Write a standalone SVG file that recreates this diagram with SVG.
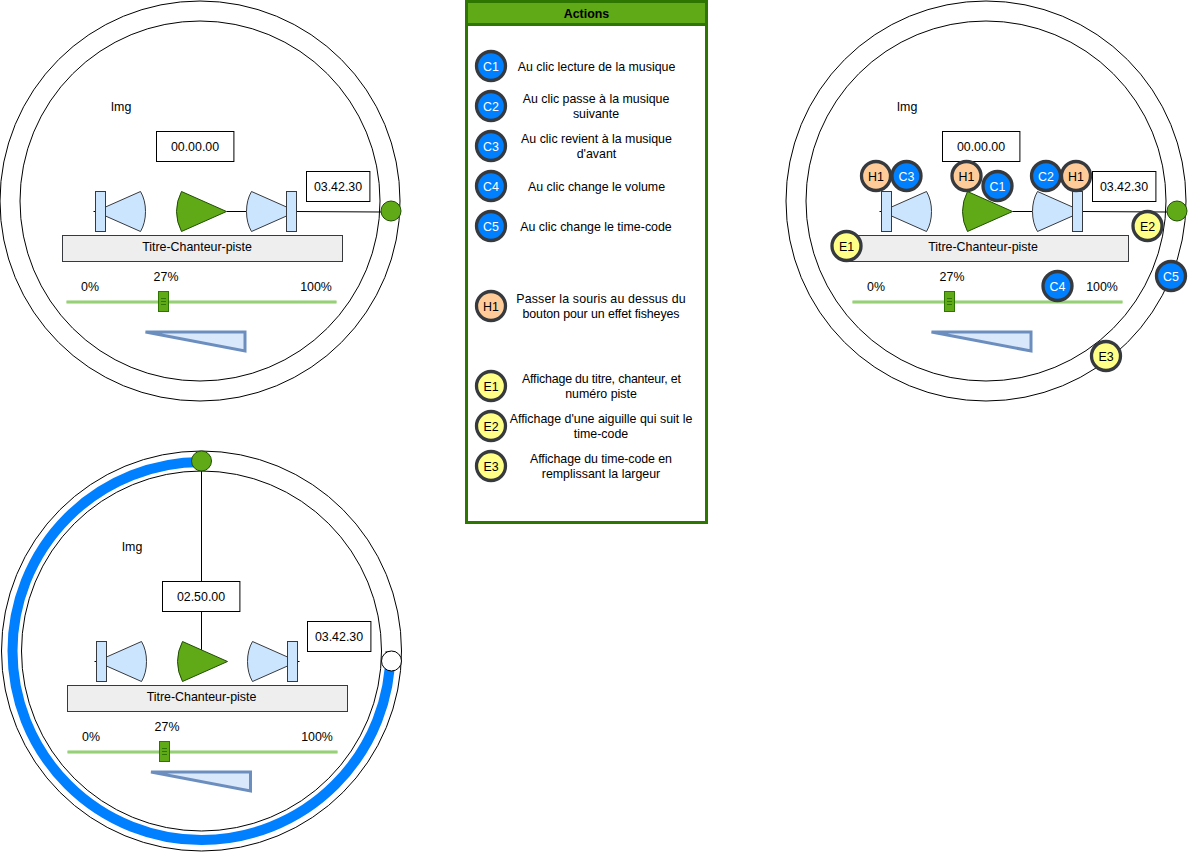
<svg xmlns="http://www.w3.org/2000/svg" width="1188" height="852" viewBox="0 0 1188 852">
<style>
text{font-family:"Liberation Sans",Arial,sans-serif;font-size:12.4px;fill:#000;text-anchor:middle;dominant-baseline:central;transform:translateY(.5px)}
.ring{fill:none;stroke:#000;stroke-width:1}
.box{fill:#fff;stroke:#000;stroke-width:1}
.btn{fill:#cce5ff;stroke:#36393d;stroke-width:1}
.play{fill:#60a917;stroke:#1f4f00;stroke-width:1}
.knob{fill:#60a917;stroke:#1f4f00;stroke-width:1}
.title{fill:#eeeeee;stroke:#36393d;stroke-width:1}
.track{fill:none;stroke:#97d077;stroke-width:2}
.halo{fill:none;stroke:#97d077;stroke-width:4;stroke-opacity:.55}
.thumb{fill:#60a917;stroke:#2d7600;stroke-width:1}
.tick{fill:none;stroke:#2d7600;stroke-width:1}
.wedge{fill:#dae8fc;stroke:#6c8ebf;stroke-width:3}
.conn{fill:none;stroke:#000;stroke-width:1}
.b{stroke:#36393d;stroke-width:3.3}
.c{fill:#007fff}.h{fill:#ffcc99}.e{fill:#ffff88}
text.w{fill:#fff}
</style>
<defs>
<g id="prev"><path class="conn" d="M93.500 211.500H95.500"/><path class="btn" d="M105.500 207L140.500 191.500Q145.500 200 145.500 211.500Q145.500 223 140.500 231.500L105.500 216Z"/><rect class="btn" x="95.500" y="191.500" width="10" height="40"/></g>
<g id="next"><path class="btn" d="M286.500 207L251.500 191.500Q246.500 200 246.500 211.500Q246.500 223 251.500 231.500L286.500 216Z"/><rect class="btn" x="286.500" y="191.500" width="10" height="40"/></g>
<path id="playshape" class="play" d="M181.500 191.500L226.500 211.500L181.500 231.500Q176.500 222 176.500 211.500Q176.500 201 181.500 191.500Z"/>
<g id="thumbshape"><rect class="thumb" x="158.500" y="291.500" width="10" height="20"/><path class="tick" d="M161 298.500H166M161 301.500H166M161 304.500H166"/></g>
</defs>

<g id="panel1">
<circle id="p1-outer" class="ring" cx="200" cy="201" r="200"/>
<circle id="p1-inner" class="ring" cx="200" cy="201" r="180"/>
</g>
<g id="panel2">
<circle id="p2-outer" class="ring" cx="986" cy="201" r="200"/>
<circle id="p2-inner" class="ring" cx="986" cy="201" r="180"/>
</g>
<g id="panel3">
<circle id="p3-outer" class="ring" cx="201.500" cy="651" r="200"/>
<path id="p3-progress" fill="none" stroke="#007fff" stroke-width="10" d="M201.500 462A189 189 0 1 0 390.500 651"/>
<circle id="p3-inner" class="ring" cx="201.500" cy="651" r="180"/>
</g>

<g id="connectors">
<path class="conn" d="M226.500 211.500H246.500"/>
<path class="conn" d="M296.500 211.500L381 212"/>
<path class="conn" d="M1012.500 211.500H1032.500"/>
<path class="conn" d="M1082.500 211.500L1167 212"/>
<path class="conn" d="M201.500 471V650"/>
<path class="conn" d="M297.500 661.500H299.500"/>
</g>

<g id="panel1-nodes">
<g id="p1-img"><text x="121" y="106">Img</text></g>
<g id="p1-time"><rect class="box" x="156.500" y="131.500" width="77.400" height="30"/><text x="195" y="146.500">00.00.00</text></g>
<g id="p1-total"><rect class="box" x="306.500" y="171.500" width="63.400" height="30"/><text x="338" y="186.500">03.42.30</text></g>
<use id="p1-prev" href="#prev"/>
<use id="p1-play" href="#playshape"/>
<use id="p1-next" href="#next"/>
<g id="p1-title"><rect class="title" x="62.500" y="235.500" width="280" height="26"/><text x="197" y="246.500">Titre-Chanteur-piste</text></g>
<g id="p1-slider"><path class="halo" d="M66.500 302H336.500"/><path class="track" d="M66.500 302H336.500"/><use href="#thumbshape"/><text x="166" y="276">27%</text><text x="90" y="286">0%</text><text x="316" y="286">100%</text></g>
<path id="p1-wedge" class="wedge" d="M145.500 332H245V351Z"/>
<circle id="p1-knob" class="knob" cx="391" cy="211" r="10"/>
</g>

<g id="panel2-nodes">
<g id="p2-img"><text x="907" y="106">Img</text></g>
<g id="p2-time"><rect class="box" x="942.500" y="131.500" width="77.400" height="30"/><text x="981" y="146.500">00.00.00</text></g>
<g id="p2-total"><rect class="box" x="1092.500" y="171.500" width="63.400" height="30"/><text x="1124" y="186.500">03.42.30</text></g>
<use id="p2-prev" href="#prev" x="786"/>
<use id="p2-play" href="#playshape" x="786"/>
<use id="p2-next" href="#next" x="786"/>
<g id="p2-title"><rect class="title" x="848.500" y="235.500" width="280" height="26"/><text x="983" y="246.500">Titre-Chanteur-piste</text></g>
<g id="p2-slider"><path class="halo" d="M852.500 302H1122.500"/><path class="track" d="M852.500 302H1122.500"/><use href="#thumbshape" x="786"/><text x="952" y="276">27%</text><text x="876" y="286">0%</text><text x="1102" y="286">100%</text></g>
<path id="p2-wedge" class="wedge" d="M931.500 332H1031V351Z"/>
<circle id="p2-knob" class="knob" cx="1177" cy="211" r="10"/>
<g id="p2-h1a"><circle class="b h" cx="876" cy="176" r="14.500"/><text x="876" y="176">H1</text></g>
<g id="p2-c3"><circle class="b c" cx="906.500" cy="176" r="14.500"/><text class="w" x="906.500" y="176">C3</text></g>
<g id="p2-h1b"><circle class="b h" cx="966.500" cy="176" r="14.500"/><text x="966.500" y="176">H1</text></g>
<g id="p2-c1"><circle class="b c" cx="997.500" cy="186" r="14.500"/><text class="w" x="997.500" y="186">C1</text></g>
<g id="p2-c2"><circle class="b c" cx="1046" cy="176" r="14.500"/><text class="w" x="1046" y="176">C2</text></g>
<g id="p2-h1c"><circle class="b h" cx="1076" cy="176" r="14.500"/><text x="1076" y="176">H1</text></g>
<g id="p2-e2"><circle class="b e" cx="1147.500" cy="226" r="14.500"/><text x="1147.500" y="226">E2</text></g>
<g id="p2-e1"><circle class="b e" cx="846.500" cy="246" r="14.500"/><text x="846.500" y="246">E1</text></g>
<g id="p2-c4"><circle class="b c" cx="1057.500" cy="286" r="14.500"/><text class="w" x="1057.500" y="286">C4</text></g>
<g id="p2-c5"><circle class="b c" cx="1171" cy="276" r="14.500"/><text class="w" x="1171" y="276">C5</text></g>
<g id="p2-e3"><circle class="b e" cx="1106" cy="356" r="14.500"/><text x="1106" y="356">E3</text></g>
</g>

<g id="panel3-nodes">
<g id="p3-img"><text x="132" y="546">Img</text></g>
<g id="p3-time"><rect class="box" x="162.500" y="581.500" width="77.400" height="30"/><text x="201" y="596.500">02.50.00</text></g>
<g id="p3-total"><rect class="box" x="307.500" y="621.500" width="63.400" height="30"/><text x="339" y="636.500">03.42.30</text></g>
<use id="p3-prev" href="#prev" x="1" y="450"/>
<use id="p3-play" href="#playshape" x="1" y="450"/>
<use id="p3-next" href="#next" x="1" y="450"/>
<g id="p3-title"><rect class="title" x="67.500" y="685.500" width="280" height="26"/><text x="201.500" y="696.500">Titre-Chanteur-piste</text></g>
<g id="p3-slider"><path class="halo" d="M67.500 752H337.500"/><path class="track" d="M67.500 752H337.500"/><use href="#thumbshape" x="1" y="450"/><text x="167" y="726">27%</text><text x="91" y="736">0%</text><text x="317" y="736">100%</text></g>
<path id="p3-wedge" class="wedge" d="M151 772H250.500V791Z"/>
<circle id="p3-knob-start" class="knob" cx="201.500" cy="461" r="10"/>
<circle id="p3-knob-end" class="box" cx="391.500" cy="661" r="10"/>
</g>

<g id="legend">
<rect x="466.500" y="1.500" width="240" height="521" fill="#fff" stroke="#2d7600" stroke-width="3"/>
<rect x="466.500" y="1.500" width="240" height="23" fill="#60a917" stroke="#2d7600" stroke-width="3"/>
<text x="586.500" y="13" font-weight="bold">Actions</text>
<g id="leg-c1"><circle class="b c" cx="491" cy="66" r="14.500"/><text class="w" x="491" y="66">C1</text><text x="596.500" y="66">Au clic lecture de la musique</text></g>
<g id="leg-c2"><circle class="b c" cx="491" cy="106" r="14.500"/><text class="w" x="491" y="106">C2</text><text x="596" y="98.500">Au clic passe à la musique</text><text x="596" y="113.500">suivante</text></g>
<g id="leg-c3"><circle class="b c" cx="491" cy="146" r="14.500"/><text class="w" x="491" y="146">C3</text><text x="596.500" y="138.500">Au clic revient à la musique</text><text x="596.500" y="153.500">d'avant</text></g>
<g id="leg-c4"><circle class="b c" cx="491" cy="186" r="14.500"/><text class="w" x="491" y="186">C4</text><text x="596.500" y="186">Au clic change le volume</text></g>
<g id="leg-c5"><circle class="b c" cx="491" cy="226" r="14.500"/><text class="w" x="491" y="226">C5</text><text x="596" y="226">Au clic change le time-code</text></g>
<g id="leg-h1"><circle class="b h" cx="491" cy="306" r="14.500"/><text x="491" y="306">H1</text><text x="601" y="298.500" textLength="169.500">Passer la souris au dessus du</text><text x="601" y="313.500" textLength="157">bouton pour un effet fisheyes</text></g>
<g id="leg-e1"><circle class="b e" cx="491" cy="386" r="14.500"/><text x="491" y="386">E1</text><text x="601.500" y="378.500" textLength="159">Affichage du titre, chanteur, et</text><text x="601" y="393.500">numéro piste</text></g>
<g id="leg-e2"><circle class="b e" cx="491" cy="426" r="14.500"/><text x="491" y="426">E2</text><text x="601" y="418.500">Affichage d'une aiguille qui suit le</text><text x="601" y="433.500">time-code</text></g>
<g id="leg-e3"><circle class="b e" cx="491" cy="466" r="14.500"/><text x="491" y="466">E3</text><text x="601" y="458.500" textLength="142">Affichage du time-code en</text><text x="601" y="473.500">remplissant la largeur</text></g>
</g>
</svg>
